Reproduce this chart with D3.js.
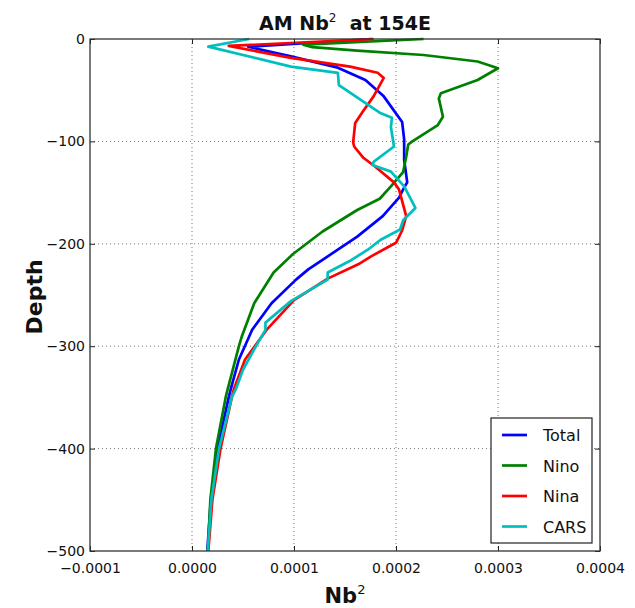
<!DOCTYPE html>
<html>
<head>
<meta charset="utf-8">
<script src="https://cdn.jsdelivr.net/npm/d3@7/dist/d3.min.js"></script>
<style>
  html, body { margin: 0; padding: 0; background: #fff; }
  svg { display: block; font-family: "DejaVu Sans", sans-serif; }
</style>
</head>
<body>
<svg id="chart" width="635" height="608"></svg>
<script>
// Profiles of buoyancy frequency squared (Nb^2, units of 1e-4) against depth (m)
const seriesNames = ["Total", "Nino", "Nina", "CARS"];
const seriesColors = ["#0000ff", "#008000", "#ff0000", "#00bfbf"];

const totalDepth = [0, 7.5, 17, 28, 40, 56, 81, 98, 118, 140, 145, 155, 173, 193, 213, 225, 235, 258, 284, 313, 342, 350, 400, 450, 500];
const totalNb2   = [1.76, 0.55, 0.97, 1.43, 1.70, 1.88, 2.06, 2.08, 2.08, 2.11, 2.08, 2.03, 1.87, 1.62, 1.32, 1.14, 1.02, 0.78, 0.59, 0.46, 0.38, 0.36, 0.25, 0.185, 0.15];

const ninoDepth = [0, 5.5, 8, 11.4, 15.6, 22, 28.6, 40, 53, 58, 76, 84, 100, 103, 115, 130, 144, 156, 167, 188, 210, 228, 258, 290, 300, 342, 350, 400, 450, 500];
const ninoNb2   = [2.27, 1.09, 1.18, 1.62, 2.27, 2.80, 3.00, 2.80, 2.44, 2.42, 2.46, 2.41, 2.16, 2.12, 2.10, 2.07, 1.95, 1.84, 1.62, 1.28, 0.99, 0.80, 0.61, 0.49, 0.46, 0.35, 0.33, 0.235, 0.18, 0.155];

const ninaDepth = [0, 6.8, 18.5, 27, 33, 38, 56, 70, 82, 101, 105, 116, 125, 140, 147, 173, 187, 199, 212, 220, 234, 255, 283, 313, 342, 350, 400, 450, 500];
const ninaNb2   = [1.78, 0.36, 0.97, 1.55, 1.82, 1.88, 1.78, 1.68, 1.60, 1.58, 1.59, 1.68, 1.80, 1.98, 2.03, 2.10, 2.06, 2.00, 1.76, 1.63, 1.33, 1.00, 0.74, 0.52, 0.41, 0.39, 0.28, 0.20, 0.16];

const carsDepth = [0, 7.5, 27, 33, 45, 72, 77, 86, 105, 120, 123, 129.5, 144, 165, 177, 186, 196, 206, 216, 228, 235, 256, 277, 284, 303, 323, 342, 350, 400, 450, 500];
const carsNb2   = [0.56, 0.16, 0.97, 1.43, 1.44, 1.84, 1.96, 1.95, 1.98, 1.78, 1.77, 1.95, 2.08, 2.19, 2.07, 2.04, 1.85, 1.72, 1.56, 1.33, 1.33, 0.97, 0.72, 0.72, 0.61, 0.50, 0.43, 0.39, 0.265, 0.19, 0.155];

const xTicks = [-0.0001, 0.0, 0.0001, 0.0002, 0.0003, 0.0004];
const xTickLabels = ["\u22120.0001", "0.0000", "0.0001", "0.0002", "0.0003", "0.0004"];
const yTicks = [0, -100, -200, -300, -400, -500];
const yTickLabels = ["0", "\u2212100", "\u2212200", "\u2212300", "\u2212400", "\u2212500"];

const profiles = [
  [totalDepth, totalNb2],
  [ninoDepth, ninoNb2],
  [ninaDepth, ninaNb2],
  [carsDepth, carsNb2]
].map(([d, v], i) => ({
  name: seriesNames[i],
  color: seriesColors[i],
  points: d.map((dep, k) => ({ x: v[k] * 1e-4, y: -dep }))
}));

const svg = d3.select("#chart");
const plotLeft = 90, plotRight = 600, plotTop = 39, plotBottom = 551;

const x = d3.scaleLinear().domain([-0.0001, 0.0004]).range([plotLeft, plotRight]);
const y = d3.scaleLinear().domain([0, -500]).range([plotTop, plotBottom]);

// dotted grid
const grid = svg.append("g");
grid.selectAll("line.gx").data(xTicks.slice(1, -1)).join("line")
  .attr("x1", d => x(d)).attr("x2", d => x(d))
  .attr("y1", plotTop).attr("y2", plotBottom)
  .attr("stroke", "#777").attr("stroke-width", 1).attr("stroke-dasharray", "1,3");
grid.selectAll("line.gy").data(yTicks.slice(1, -1)).join("line")
  .attr("y1", d => y(d)).attr("y2", d => y(d))
  .attr("x1", plotLeft).attr("x2", plotRight)
  .attr("stroke", "#777").attr("stroke-width", 1).attr("stroke-dasharray", "1,3");

// profile lines
const line = d3.line().x(d => x(d.x)).y(d => y(d.y));
svg.append("g").selectAll("path").data(profiles).join("path")
  .attr("d", d => line(d.points))
  .attr("fill", "none")
  .attr("stroke", d => d.color)
  .attr("stroke-width", 2.7)
  .attr("stroke-linejoin", "round");

// axes with inward ticks on all sides
const tickLen = 5;
const xAxisB = d3.axisBottom(x).tickValues(xTicks).tickFormat((d, i) => xTickLabels[i]).tickSizeInner(-tickLen).tickSizeOuter(0).tickPadding(12);
const xAxisT = d3.axisTop(x).tickValues(xTicks).tickFormat("").tickSizeInner(-tickLen).tickSizeOuter(0);
const yAxisL = d3.axisLeft(y).tickValues(yTicks).tickFormat((d, i) => yTickLabels[i]).tickSizeInner(-tickLen).tickSizeOuter(0).tickPadding(5);
const yAxisR = d3.axisRight(y).tickValues(yTicks).tickFormat("").tickSizeInner(-tickLen).tickSizeOuter(0);

function styleAxis(g) {
  g.select(".domain").remove();
  g.selectAll("line").attr("stroke", "#222").attr("stroke-width", 1);
  g.selectAll("text").attr("font-size", 14).attr("fill", "#111").attr("font-family", "DejaVu Sans, sans-serif");
}
svg.append("g").attr("transform", `translate(0,${plotBottom})`).call(xAxisB).call(styleAxis);
svg.append("g").attr("transform", `translate(0,${plotTop})`).call(xAxisT).call(styleAxis);
svg.append("g").attr("transform", `translate(${plotLeft},0)`).call(yAxisL).call(styleAxis);
svg.append("g").attr("transform", `translate(${plotRight},0)`).call(yAxisR).call(styleAxis);

// frame
svg.append("rect").attr("x", plotLeft).attr("y", plotTop)
  .attr("width", plotRight - plotLeft).attr("height", plotBottom - plotTop)
  .attr("fill", "none").attr("stroke", "#333").attr("stroke-width", 1.3);

// title
const title = svg.append("text").attr("x", (plotLeft + plotRight) / 2).attr("y", 30)
  .attr("text-anchor", "middle").attr("font-weight", "bold").attr("font-size", 19).attr("fill", "#111");
title.append("tspan").text("AM Nb");
title.append("tspan").attr("font-size", 12).attr("dy", -8).attr("font-weight", "normal").text("2");
title.append("tspan").attr("dy", 8).text("\u00a0 at 154E");

// axis labels
const xl = svg.append("text").attr("x", (plotLeft + plotRight) / 2).attr("y", 603)
  .attr("text-anchor", "middle").attr("font-weight", "bold").attr("font-size", 21).attr("fill", "#111");
xl.append("tspan").text("Nb");
xl.append("tspan").attr("font-size", 13).attr("dy", -9).attr("font-weight", "normal").text("2");

svg.append("text").attr("transform", `translate(42,${(plotTop + plotBottom) / 2 + 2}) rotate(-90)`)
  .attr("text-anchor", "middle").attr("font-weight", "bold").attr("font-size", 22).attr("fill", "#111")
  .text("Depth");

// legend
const lg = svg.append("g").attr("transform", "translate(491,418)");
lg.append("rect").attr("width", 101).attr("height", 125)
  .attr("fill", "#fff").attr("stroke", "#222").attr("stroke-width", 1.2);
const rows = lg.selectAll("g.row").data(profiles).join("g")
  .attr("transform", (d, i) => `translate(0,${17 + i * 30.5})`);
rows.append("line").attr("x1", 11).attr("x2", 36)
  .attr("stroke", d => d.color).attr("stroke-width", 2.7);
rows.append("text").attr("x", 52).attr("y", 6).attr("font-size", 16).attr("fill", "#111")
  .text(d => d.name);
</script>
</body>
</html>
